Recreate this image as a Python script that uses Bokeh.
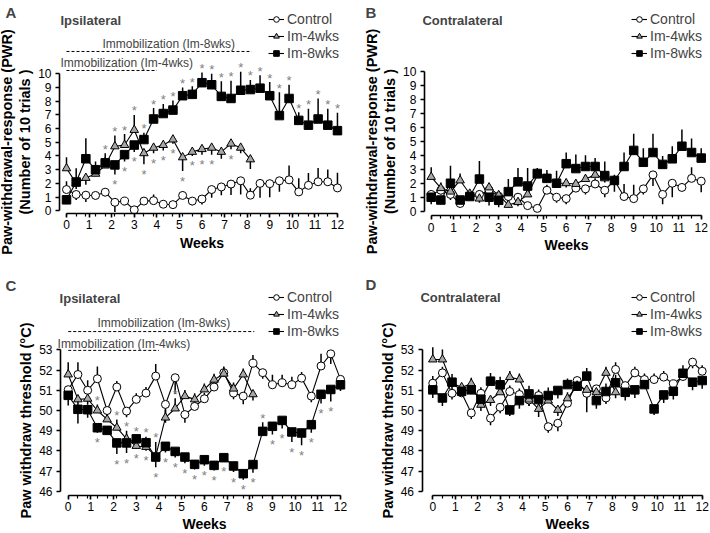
from bokeh.plotting import figure
from bokeh.models import Range1d, FixedTicker, Legend, LegendItem, Label
from bokeh.layouts import column, row
from bokeh.embed import file_html
from bokeh.resources import INLINE
from bokeh.core.properties import value

FONT = "Liberation Sans"

# ---------------- data ----------------
days = [0, 3, 6, 9, 12, 15, 18, 21, 24, 27, 30, 33, 36, 39, 42, 45, 48, 51, 54, 57,
        60, 63, 66, 69, 72, 75, 78, 81, 84]
days_im4 = days[:20]
week_ticks = [0, 1, 2, 3, 4, 5, 6, 7, 8, 9, 10, 11, 12]
pwr_ticks = [0, 1, 2, 3, 4, 5, 6, 7, 8, 9, 10]
temp_ticks = [46, 47, 48, 49, 50, 51, 52, 53]
series_names = ["Control", "Im-4wks", "Im-8wks"]
immob_span = {"Im-8wks": (0, 8.2), "Im-4wks": (0, 4.0)}

# Panel A: ipsilateral PWR
a_ctrl = [1.55, 1.19, 1.14, 1.12, 1.36, 0.62, 0.71, 0.07, 0.71, 0.74, 0.48, 0.45, 1.12, 0.71, 0.86,
          1.55, 1.74, 1.95, 2.19, 1.14, 2.0, 1.98, 2.19, 2.26, 1.38, 1.86, 2.12, 2.12, 1.67]
a_ctrl_err = [0.6, -0.4, -0.5, -0.3, -0.3, -0.7, -0.3, 0.2, 0.3, 0.45, 0.3, -0.3, 0.3, -0.3, -0.4,
              -0.6, -0.6, -0.8, -1.0, 0.5, -1.05, -1.0, -0.8, 1.05, 1.0, 0.9, 1.0, 0.9, 1.1]
a_im4 = [3.1, 2.0, 2.4, 2.7, 3.3, 4.7, 4.8, 5.9, 4.2, 4.6, 4.8, 5.2, 3.9, 4.3, 4.5, 4.6, 4.3, 4.9, 4.6, 3.75]
a_im4_err = [0.8, -0.4, -0.5, 0.4, 0.6, 0.8, 0.8, 1.1, -0.8, -0.4, -0.4, -0.3, -1.0, -0.3, -0.4,
             -0.5, -0.5, -0.4, -0.4, -0.7]
a_im4_sig = [0, 0, 0, 0, 0, 1, 1, 1, -1, -1, -1, -1, -1, -1, -1, -1, 0, -1, 0, 0]
a_im8 = [0.8, 2.1, 3.8, 3.0, 3.5, 3.35, 4.1, 4.8, 5.2, 6.7, 7.1, 7.35, 8.4, 8.5, 9.35, 9.2, 8.35, 8.2,
         8.8, 8.85, 8.95, 8.4, 6.95, 8.2, 6.6, 6.25, 6.7, 6.25, 5.85]
a_im8_err = [0.0, 1.0, 1.5, 0.6, 0.7, -0.7, -0.5, -0.5, 0.5, 0.8, 0.7, 0.7, 0.6, 0.6, 0.75, 0.8, 1.1, 1.3,
             1.35, 0.7, 0.95, 1.0, 1.7, 1.0, 0.6, 1.2, 1.5, 1.2, 1.3]
a_im8_sig = [0, 0, 0, 0, 1, -1, -1, -1, 1, 1, 1, 1, 1, 1, 1, 1, 1, 1, 1, 1, 1, 1, 1, 1, 1, 1, 1, 1, 1]

# Panel B: contralateral PWR
b_ctrl = [1.2, 1.5, 1.2, 0.55, 1.15, 1.2, 1.5, 1.07, 1.05, 1.0, 0.4, 0.2, 1.5, 1.0, 0.9, 1.65, 1.6,
          1.95, 1.5, 2.2, 1.05, 0.9, 1.6, 2.6, 1.2, 2.0, 1.7, 2.35, 2.15]
b_ctrl_err = [0.3, -0.3, -0.4, -0.2, -0.3, 0.3, -0.3, -0.3, -0.3, 0.3, -0.2, -0.2, 0.4, -0.4, -0.4,
              0.4, -0.4, 0.4, -0.5, 0.4, 0.9, 1.0, -0.4, -0.8, -0.7, -1.0, 0.3, 0.8, -0.8]
b_im4 = [2.45, 1.65, 1.4, 2.2, 1.25, 0.9, 1.7, 1.15, 0.45, 0.65, 1.2, 2.55, 2.35, 2.0, 2.0, 1.95,
         2.3, 2.6, 2.35, 2.2]
b_im4_err = [0.7, 0.4, 0.4, 0.5, 0.3, -0.3, 0.3, 0.3, -0.2, -0.3, 0.3, 0.3, 0.3, 0.3, -0.3, -0.3,
             0.3, 0.3, -0.3, 0.3]
b_im8 = [1.0, 0.8, 2.0, 0.8, 1.05, 2.3, 1.0, 0.78, 1.4, 2.1, 1.8, 2.7, 2.35, 2.0, 3.4, 3.05, 3.2, 3.2,
         2.55, 2.2, 3.2, 4.35, 3.5, 4.2, 3.35, 3.75, 4.65, 4.2, 3.8]
b_im8_err = [-0.5, -0.3, 1.25, -0.3, 0.4, 1.3, -0.6, -0.5, 0.9, 1.0, 1.3, 0.4, 0.6, 0.9, 0.8, 1.0,
             0.8, 0.6, 1.0, -0.8, 1.0, 1.2, 1.0, 1.35, 0.6, 0.9, 1.2, 1.0, 0.7]

# Panel C: ipsilateral threshold
c_ctrl = [51.03, 51.78, 51.0, 51.57, 50.0, 51.16, 49.97, 50.55, 50.86, 51.7, 50.3, 51.62, 49.8, 50.2,
          50.58, 51.16, 51.87, 50.86, 50.71, 52.34, 51.87, 51.27, 51.37, 51.27, 51.6, 50.71, 52.2,
          52.8, 51.54]
c_ctrl_err = [-0.4, 0.6, 0.5, 0.6, -0.3, 0.3, -0.3, 0.3, 0.3, 0.6, -0.9, -0.8, -0.4, 0.3, 0.3, 0.3,
              0.3, -0.3, -0.4, 0.4, -0.3, 0.5, 0.4, 0.4, 0.3, -0.3, 0.6, -0.5, -0.3]
c_im4 = [51.78, 50.55, 50.58, 50.0, 49.56, 49.15, 48.6, 48.25, 48.2, 47.75, 49.65, 50.1, 50.71, 50.55,
         51.04, 51.52, 51.82, 51.08, 51.78, 50.8]
c_im4_err = [0.6, -0.3, -0.3, 0.3, 0.3, 0.4, 0.4, 0.5, 0.5, 0.7, 0.4, 0.5, 0.3, 0.3, 0.3, 0.3, 0.3,
             0.3, 0.3, -0.3]
c_im4_sig = [0, 0, 0, 1, 0, 1, 1, 1, 1, 1, 0, 1, 0, 0, 0, 0, 0, 0, 0, 0]
c_im8 = [50.75, 50.06, 50.04, 49.15, 49.02, 48.4, 48.4, 48.6, 48.41, 47.7, 48.23, 47.98, 47.7, 47.34,
         47.57, 47.29, 47.67, 47.26, 46.88, 47.33, 48.97, 49.22, 49.51, 48.94, 48.89, 49.3, 50.8,
         51.04, 51.27]
c_im8_err = [-0.5, -0.7, -0.4, -0.25, -0.2, -0.55, -0.5, -0.5, -0.4, -0.5, -0.3, -0.3, -0.3, -0.25,
             -0.3, -0.25, -0.2, -0.3, -0.3, -0.4, 0.45, -0.4, -0.4, -0.5, -0.6, -0.4, -0.45, -0.6, -0.3]
c_im8_sig = [0, 0, 0, -1, 0, -1, -1, -1, -1, -1, -1, -1, -1, -1, -1, -1, -1, -1, -1, -1, 1, -1, -1,
             -1, -1, -1, -1, -1, 0]

# Panel D: contralateral threshold
d_ctrl = [51.35, 51.86, 50.85, 50.87, 49.88, 50.85, 49.62, 50.16, 50.94, 50.79, 50.52, 50.74, 49.2,
          49.37, 50.36, 51.48, 50.85, 51.07, 50.62, 52.03, 51.23, 51.86, 51.53, 51.53, 51.65, 51.32,
          51.68, 52.39, 51.94]
d_ctrl_err = [0.35, 0.3, -0.3, 0.3, -0.3, 0.3, -0.35, -0.3, 0.3, 0.3, -0.3, 0.3, -0.3, -0.4, 0.3,
              -0.3, -0.3, -0.3, -0.3, 0.35, -0.3, 0.3, 0.3, 0.3, 0.3, -0.3, 0.3, -0.3, 0.3]
d_im4 = [52.52, 52.52, 51.35, 51.15, 51.32, 50.28, 50.52, 50.9, 51.65, 51.53, 50.54, 50.08, 50.49,
         50.03, 50.6, 51.23, 51.02, 50.9, 51.86, 50.9]
d_im4_err = [0.6, 0.5, -0.3, -0.3, 0.3, -0.3, -0.3, 0.3, 0.3, 0.3, -0.3, -0.4, 0.3, -0.3, 0.3, 0.3,
             -1.1, 0.3, 0.3, -0.3]
d_im8 = [51.02, 50.62, 51.4, 50.95, 51.02, 50.56, 51.45, 51.27, 50.03, 50.49, 50.82, 50.54, 50.74,
         50.99, 51.28, 51.2, 51.7, 50.49, 50.94, 51.37, 50.9, 51.02, 51.28, 50.08, 50.77, 50.95, 51.84,
         51.4, 51.48]
d_im8_err = [-0.4, -0.4, 0.4, 0.3, 0.4, -0.4, 0.4, 0.4, -0.3, -0.4, 0.4, -0.4, 0.4, -0.4, 0.3, 0.4,
             0.4, -0.4, 0.4, 0.4, -0.4, -0.4, 0.4, -0.3, -0.4, -0.4, 0.4, -0.4, -0.4]

STY = {
    "Control": dict(marker="circle", fill_color="white", size=8),
    "Im-4wks": dict(marker="triangle", fill_color="#a6a6a6", size=8.5),
    "Im-8wks": dict(marker="square", fill_color="black", size=8.5),
}


def make_panel(letter, side, ylabel, yticks, xr, yr, yaxis_x, xaxis_y, width, height,
               xlab_standoff, series, legend_xy, letter_xy, side_xy, immob=None):
    p = figure(width=width, height=height, x_range=Range1d(*xr), y_range=Range1d(*yr),
               output_backend="svg", toolbar_location=None,
               min_border_left=0, min_border_right=0, min_border_top=0, min_border_bottom=0)
    p.outline_line_color = None
    p.xgrid.visible = False
    p.ygrid.visible = False

    xa = p.xaxis[0]
    xa.ticker = FixedTicker(ticks=week_ticks, minor_ticks=[d / 7 for d in days])
    xa.bounds = (week_ticks[0], week_ticks[-1])
    xa.axis_label = "Weeks"
    xa.fixed_location = xaxis_y
    ya = p.yaxis[0]
    ya.ticker = FixedTicker(ticks=yticks)
    ya.bounds = (yticks[0], yticks[-1])
    ya.axis_label = ylabel
    ya.fixed_location = yaxis_x
    for ax in (xa, ya):
        ax.axis_line_width = 1.6
        ax.major_tick_line_width = 1.6
        ax.minor_tick_line_width = 1.2
        ax.major_tick_in = 0
        ax.major_tick_out = 4
        ax.minor_tick_in = 0
        ax.major_label_text_font = FONT
        ax.major_label_text_font_size = "12px"
        ax.major_label_text_color = "black"
        ax.axis_label_text_font = FONT
        ax.axis_label_text_font_style = "bold"
        ax.axis_label_text_color = "black"
        ax.axis_label_standoff = 2
    xa.major_label_standoff = xlab_standoff
    ya.major_label_standoff = 4
    xa.minor_tick_out = 3
    ya.minor_tick_out = 0
    xa.axis_label_text_font_size = "14px"
    ya.axis_label_text_font_size = "14.5px"
    ya.axis_label_text_line_height = 1.15

    handles = {}
    for name, dd, vals, errs, sig in series:
        xs = [d / 7 for d in dd]
        ends = [v + e for v, e in zip(vals, errs)]
        p.segment(x0=xs, y0=vals, x1=xs, y1=ends, line_color="black", line_width=1.5)
        handles[name] = [p.line(xs, vals, line_color="black", line_width=1.1)]
    for name, dd, vals, errs, sig in series:
        xs = [d / 7 for d in dd]
        st = STY[name]
        handles[name].append(p.scatter(xs, vals, marker=st["marker"], size=st["size"],
                                       fill_color=st["fill_color"], line_color="black",
                                       line_width=1))
    ux, uy, dx, dy = [], [], [], []
    for name, dd, vals, errs, sig in series:
        if sig is None:
            continue
        for d, v, e, s in zip(dd, vals, errs, sig):
            if s == 0:
                continue
            base = v + e if (e > 0) == (s > 0) else v
            if s > 0:
                ux.append(d / 7)
                uy.append(base)
            else:
                dx.append(d / 7)
                dy.append(base)
    star_kw = dict(text_font=value(FONT), text_font_size="13px", text_color="#7f7f7f",
                   text_align="center", text_baseline="middle")
    if ux:
        p.text(x=ux, y=uy, text=["*"] * len(ux), y_offset=-4, **star_kw)
    if dx:
        p.text(x=dx, y=dy, text=["*"] * len(dx), y_offset=10, **star_kw)

    legend = Legend(items=[LegendItem(label=n, renderers=handles[n]) for n in series_names],
                    location=legend_xy)
    legend.label_text_font = FONT
    legend.label_text_font_size = "14px"
    legend.glyph_width = 16
    legend.glyph_height = 14
    legend.label_height = 14
    legend.label_standoff = 3
    legend.spacing = 1
    legend.padding = 0
    legend.margin = 0
    legend.border_line_color = None
    legend.background_fill_alpha = 0
    p.add_layout(legend)

    p.add_layout(Label(x=letter_xy[0], y=letter_xy[1], text=letter, text_font=FONT,
                       text_font_size="15px", text_font_style="bold", text_baseline="top"))
    p.add_layout(Label(x=side_xy[0], y=side_xy[1], text=side, text_font=FONT,
                       text_font_size="13px", text_font_style="bold", text_baseline="middle"))
    if immob:
        for key, line_y, tx, ty in immob:
            x0, x1 = immob_span[key]
            p.line([x0, x1], [line_y, line_y], line_dash="3 2", line_color="black", line_width=1)
            p.add_layout(Label(x=tx, y=ty, text="Immobilization (" + key + ")", text_font=FONT,
                               text_font_size="12px", text_baseline="middle"))
    return p


pwr_label = "Paw-withdrawal-response (PWR)\n(Number of 10 trials )"
thr_label = "Paw withdraw threshold (\u00b0C)"

# frames cover each whole figure; legend location is measured from the frame's bottom-left
pA = make_panel("A", "Ipsilateral", pwr_label, pwr_ticks,
                (-2.923, 13.109), (-4.066, 15.35), -0.31, -0.197, 362, 266, 3,
                [("Control", days, a_ctrl, a_ctrl_err, None),
                 ("Im-4wks", days_im4, a_im4, a_im4_err, a_im4_sig),
                 ("Im-8wks", days, a_im8, a_im8_err, a_im8_sig)],
                (268, 205), (-2.70, 15.06), (-0.27, 13.89),
                immob=[("Im-8wks", 11.63, 1.59, 12.14), ("Im-4wks", 10.24, -0.27, 10.76)])

pB = make_panel("B", "Contralateral", pwr_label, pwr_ticks,
                (-3.053, 12.413), (-3.958, 15.08), -0.30, -0.308, 348, 266, 3,
                [("Control", days, b_ctrl, b_ctrl_err, None),
                 ("Im-4wks", days_im4, b_im4, b_im4_err, None),
                 ("Im-8wks", days, b_im8, b_im8_err, None)],
                (269, 205), (-2.92, 14.80), (-0.39, 13.65))

pC = make_panel("C", "Ipsilateral", thr_label, temp_ticks,
                (-2.984, 12.97), (43.924, 57.115), -0.34, 45.80, 362, 267, 2,
                [("Control", days, c_ctrl, c_ctrl_err, None),
                 ("Im-4wks", days_im4, c_im4, c_im4_err, c_im4_sig),
                 ("Im-8wks", days, c_im8, c_im8_err, c_im8_sig)],
                (268, 194), (-2.76, 56.62), (-0.38, 55.53),
                immob=[("Im-8wks", 53.90, 1.29, 54.30), ("Im-4wks", 52.97, -0.47, 53.31)])

pD = make_panel("D", "Contralateral", thr_label, temp_ticks,
                (-3.131, 12.37), (43.924, 57.115), -0.48, 45.80, 348, 267, 2,
                [("Control", days, d_ctrl, d_ctrl_err, None),
                 ("Im-4wks", days_im4, d_im4, d_im4_err, None),
                 ("Im-8wks", days, d_im8, d_im8_err, None)],
                (269, 194), (-3.0, 56.67), (-0.55, 55.58))

layout = column(row(pA, pB), row(pC, pD))
open("out.html", "w").write(file_html(layout, INLINE))
